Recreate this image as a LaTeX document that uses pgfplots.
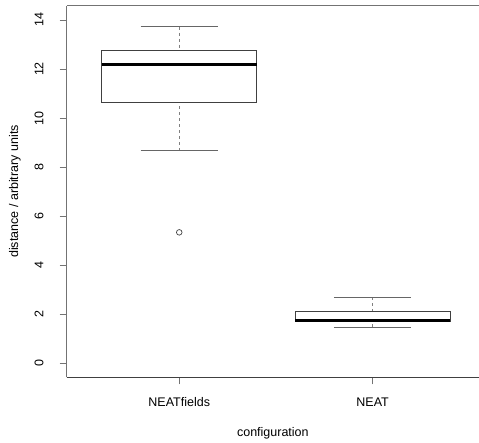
\documentclass[border=0pt]{standalone}
\usepackage{pgfplots}
\pgfplotsset{compat=1.18}
\usepgfplotslibrary{statistics}
\usepackage{fontspec}
\setmainfont{Liberation Sans}
\begin{document}
\fontsize{12.5}{15}\selectfont
\begin{tikzpicture}
\useasboundingbox (-66.7pt,-64.7pt) rectangle (412.3pt,377.3pt);
\begin{axis}[
  at={(0,0)}, anchor=south west,
  scale only axis, width=412.3pt, height=371.6pt,
  xmin=0.418, xmax=2.55,
  ymin=-0.571, ymax=14.583,
  axis x line*=bottom, axis y line*=left,
  x axis line style={draw=black!75, line width=0.9pt},
  y axis line style={draw=black!55, line width=0.9pt},
  xtick={1,2}, xticklabels={NEATfields,NEAT},
  ytick={0,2,4,6,8,10,12,14},
  tick align=outside, major tick length=7pt,
  tick style={black!55, line width=0.8pt},
  /pgf/number format/assume math mode=true,
  yticklabel style={rotate=90, anchor=south, inner sep=2pt, yshift=14pt},
  xticklabel style={anchor=north, inner sep=2pt, yshift=-11pt},
  xlabel={configuration}, ylabel={distance / arbitrary units},
  xlabel style={at={(rel axis cs:0.5,0)}, anchor=center, yshift=-55.7pt},
  ylabel style={at={(rel axis cs:0,0.5)}, anchor=center, yshift=51.7pt},
  boxplot/draw direction=y,
  boxplot/every box/.style={draw=black!75, line width=0.8pt, fill=white},
  boxplot/every median/.style={black, line width=2.5pt},
  boxplot/draw/lower whisker/.code={%
    \draw[black!50, dashed, line width=0.8pt] (boxplot box cs:\pgfplotsboxplotvalue{lower whisker},0.5) -- (boxplot box cs:\pgfplotsboxplotvalue{lower quartile},0.5);
    \draw[black!60, line width=0.8pt] (boxplot whisker cs:\pgfplotsboxplotvalue{lower whisker},0) -- (boxplot whisker cs:\pgfplotsboxplotvalue{lower whisker},1);},
  boxplot/draw/upper whisker/.code={%
    \draw[black!50, dashed, line width=0.8pt] (boxplot box cs:\pgfplotsboxplotvalue{upper whisker},0.5) -- (boxplot box cs:\pgfplotsboxplotvalue{upper quartile},0.5);
    \draw[black!60, line width=0.8pt] (boxplot whisker cs:\pgfplotsboxplotvalue{upper whisker},0) -- (boxplot whisker cs:\pgfplotsboxplotvalue{upper whisker},1);},
]
\addplot[black!75, mark=o, mark size=2.8pt, mark options={line width=0.7pt},
  boxplot prepared={draw position=1, lower whisker=8.67, lower quartile=10.62,
    median=12.19, upper quartile=12.78, upper whisker=13.73,
    box extend=0.8, whisker extend=0.4}]
  table[row sep=\\, y index=0] {data\\ 5.34\\};
\addplot[black!75, mark=o, mark size=2.8pt,
  boxplot prepared={draw position=2, lower whisker=1.48, lower quartile=1.72,
    median=1.74, upper quartile=2.12, upper whisker=2.69,
    box extend=0.8, whisker extend=0.4}]
  coordinates {};
\draw[black!55, line width=0.9pt] (rel axis cs:0,1) -- (rel axis cs:1,1);
\end{axis}
\end{tikzpicture}
\end{document}
